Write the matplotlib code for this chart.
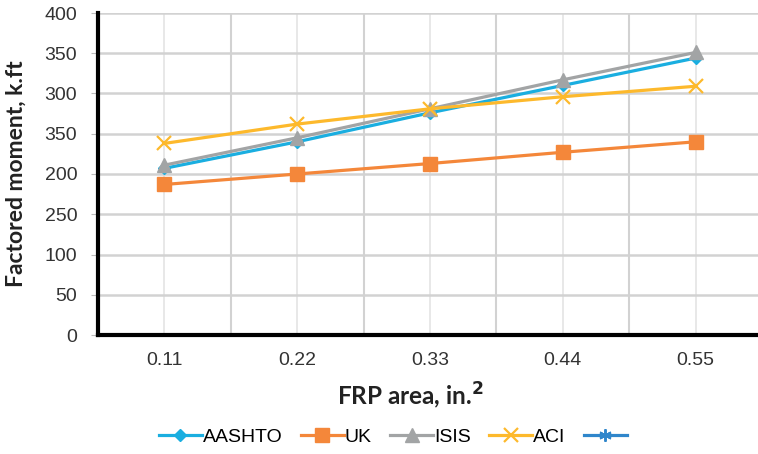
import matplotlib.pyplot as plt
import numpy as np

# data
areas = ["0.11", "0.22", "0.33", "0.44", "0.55"]
aashto = [207, 240, 276, 310, 344]
uk = [187, 200, 213, 227, 240]
isis = [211, 245, 281, 317, 351]
aci = [238, 262, 281, 296, 309]
y_ticks = [0, 50, 100, 150, 200, 250, 300, 350, 400]
y_tick_labels = ["0", "50", "100", "250", "200", "350", "300", "350", "400"]

plt.rcParams["font.family"] = ["Liberation Sans", "DejaVu Sans"]

fig = plt.figure(figsize=(7.58, 4.54), dpi=100)
ax = fig.add_axes([98 / 758, 1 - 335 / 454, 664 / 758, 322 / 454])

x = np.arange(len(areas))
lw = 2.3
ax.plot(x, aashto, color="#1AAEE0", lw=lw, marker="D", ms=6.5, label="AASHTO", zorder=3)
ax.plot(x, uk, color="#F4873A", lw=lw, marker="s", ms=9.5, label="UK", zorder=3)
ax.plot(x, isis, color="#A2A4A5", lw=lw, marker="^", ms=9.5, label="ISIS", zorder=3)
ax.plot(x, aci, color="#FDB92C", lw=lw, marker="x", ms=9.5, mew=1.6, label="ACI", zorder=3)
ax.plot([], [], color="#2F86CB", lw=lw, marker=(6, 2, 0), ms=9, mew=1.4, label=" ")

ax.set_xlim(-0.5, 4.5)
ax.set_ylim(0, 400)
ax.set_xticks(x)
ax.set_xticklabels(areas, fontsize=14, color="#333333")
ax.set_yticks(y_ticks)
ax.set_yticklabels(y_tick_labels, fontsize=14, color="#333333")

# gridlines: light at categories, darker between them
ax.set_xticks(np.arange(-0.5, 4.6, 1.0), minor=True)
ax.grid(axis="x", which="major", color="#E6E6E6", lw=1.3)
ax.grid(axis="x", which="minor", color="#D2D2D2", lw=1.5)
ax.grid(axis="y", which="major", color="#D2D2D2", lw=1.8)
ax.set_axisbelow(True)
ax.tick_params(axis="x", which="both", length=0, pad=12)
ax.tick_params(axis="y", length=5, color="#BBBBBB", pad=10)

for side in ["top", "right"]:
    ax.spines[side].set_visible(False)
for side in ["left", "bottom"]:
    ax.spines[side].set_linewidth(3)
    ax.spines[side].set_color("black")

ax.set_ylabel("Factored moment, k.ft", fontsize=16.5, fontweight="bold", color="#222222",
              family=["Lato", "DejaVu Sans"])
ax.yaxis.set_label_coords(-0.107, 0.5)
ax.set_xlabel("FRP area, in.$^\\mathbf{2}$", fontsize=17.5, fontweight="bold", color="#222222",
              family=["Lato", "DejaVu Sans"])
ax.xaxis.set_label_coords(0.47, -0.143)

fig.legend(loc="center", bbox_to_anchor=(396 / 758, 1 - 437 / 454), ncol=5, frameon=False,
           fontsize=14, handlelength=2.2, handletextpad=0.05, columnspacing=0.95)

fig.savefig("out.png", dpi=100)
